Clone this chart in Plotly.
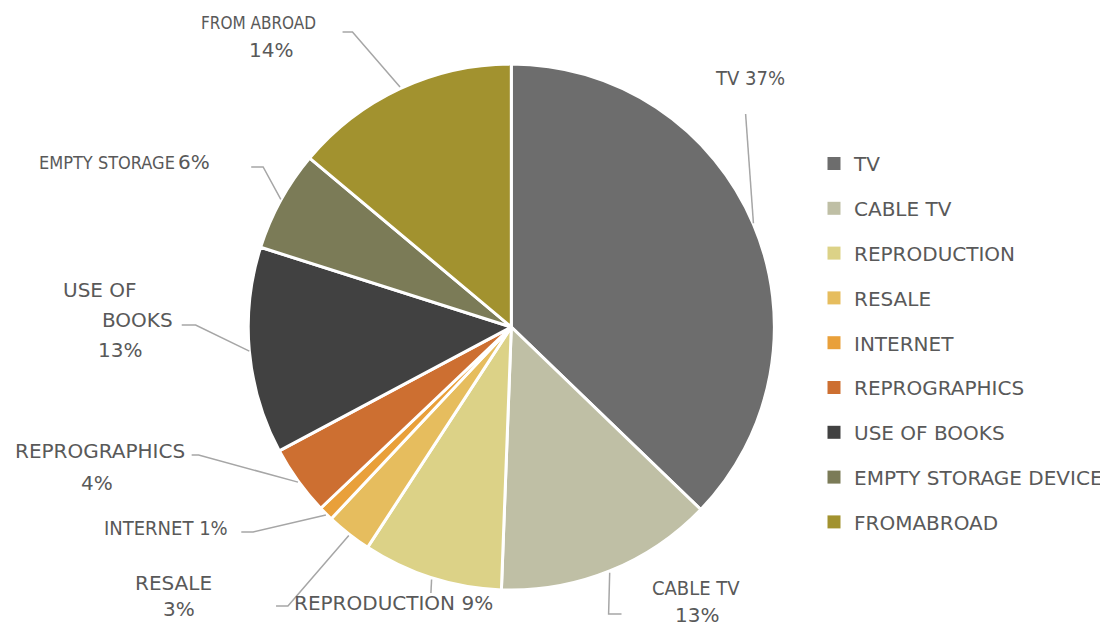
import math
import plotly.graph_objects as go

# ---- data ----
categories = ["TV", "CABLE TV", "REPRODUCTION", "RESALE", "INTERNET",
              "REPROGRAPHICS", "USE OF BOOKS", "EMPTY STORAGE DEVICE", "FROMABROAD"]
label_names = ["TV", "CABLE TV", "REPRODUCTION", "RESALE", "INTERNET",
               "REPROGRAPHICS", "USE OF BOOKS", "EMPTY STORAGE", "FROM ABROAD"]
values = [37.2, 13.4, 8.6, 2.8, 0.9, 4.3, 12.7, 6.2, 13.9]
colors = ["#6d6d6d", "#bfbfa5", "#dcd287", "#e6bd5e", "#e9a03a",
          "#cd6f31", "#414141", "#7b7b57", "#a2922f"]

W, H = 1108, 628          # window size
OFF = 8                   # default page body margin
FW, FH = W - OFF, H - OFF # figure size
CX, CY, R = 515, 327, 265
TXT = "#595959"
LINE = "#a6a6a6"
FONT = "DejaVu Sans"
COND = "DejaVu Sans Condensed, Liberation Sans Narrow, DejaVu Sans"
FS = 20

pct = [f"{int(v + 0.5)}%" for v in values]

# label layout: lines of (text, x, y, condensed, size) and leader bend points (window pixels)
label_layout = [
    ([(f"{label_names[0]} {pct[0]}", 755, 78, True, FS)], [(751, 114)]),
    ([(label_names[1], 701, 588, True, FS), (pct[1], 702, 615, False, FS)], [(613, 614), (626, 614)]),
    ([(f"{label_names[2]} {pct[2]}", 396, 603, False, FS)], [(434, 593)]),
    ([(label_names[3], 175, 583, False, FS), (pct[3], 180, 609, False, FS)], [(290, 606), (278, 606)]),
    ([(f"{label_names[4]} {pct[4]}", 167, 528, True, FS)], [(255, 532), (243, 532)]),
    ([(label_names[5], 101, 451, False, FS), (pct[5], 98, 483, False, FS)], [(200, 455), (193, 455)]),
    ([("USE OF", 101, 290, False, FS), ("BOOKS", 138, 320, False, FS), (pct[6], 121, 350, False, FS)],
     [(197, 325), (183, 325)]),
    ([(label_names[7], 108, 162, True, 18), (pct[7], 195, 162, False, FS)], [(265, 167), (253, 167)]),
    ([(label_names[8], 260, 23, True, 17), (pct[8], 273, 50, False, FS)], [(355, 32), (345, 32)]),
]

fig = go.Figure()

fig.add_trace(go.Pie(
    labels=categories, values=values, sort=False, direction="clockwise",
    rotation=0, marker=dict(colors=colors, line=dict(color="white", width=3)),
    textinfo="none", hoverinfo="label+percent", showlegend=False,
    domain=dict(x=[(CX - R - OFF) / FW, (CX + R - OFF) / FW],
                y=[(H - CY - R) / FH, (H - CY + R) / FH]),
))

# legend entries
for i, (c, col) in enumerate(zip(categories, colors)):
    fig.add_trace(go.Scatter(
        x=[None], y=[None], mode="markers", name=c, legendgroup=f"g{i}",
        marker=dict(symbol="square", size=13, color=col), hoverinfo="skip"))

shapes = []
annotations = []
total = sum(values)
cum = 0.0
for v, (lines, bends) in zip(values, label_layout):
    mid = (cum + v / 2) / total * 2 * math.pi
    cum += v
    px = CX + R * math.sin(mid)
    py = CY - R * math.cos(mid)
    pts = [(px, py)] + bends
    path = "M " + " L ".join(f"{x:.1f},{y:.1f}" for x, y in pts)
    shapes.append(dict(type="path", path=path, xref="x", yref="y",
                       line=dict(color=LINE, width=1.5)))
    for text, x, y, cond, size in lines:
        annotations.append(dict(
            x=x, y=y, xref="x", yref="y", text=text, showarrow=False,
            xanchor="center", yanchor="middle",
            font=dict(family=COND if cond else FONT, size=size, color=TXT)))

fig.update_layout(
    width=FW, height=FH, margin=dict(l=0, r=0, t=0, b=0),
    paper_bgcolor="white", plot_bgcolor="white",
    xaxis=dict(range=[OFF, W], visible=False, domain=[0, 1], fixedrange=True),
    yaxis=dict(range=[H, OFF], visible=False, domain=[0, 1], fixedrange=True),
    shapes=shapes, annotations=annotations,
    legend=dict(x=(820 - OFF) / FW, y=1 - (144 - OFF) / FH, xanchor="left", yanchor="top",
                tracegroupgap=15.8, font=dict(family=FONT, size=FS, color=TXT),
                bgcolor="rgba(0,0,0,0)", itemclick=False, itemdoubleclick=False),
    showlegend=True,
)

fig.write_html("out.html")
